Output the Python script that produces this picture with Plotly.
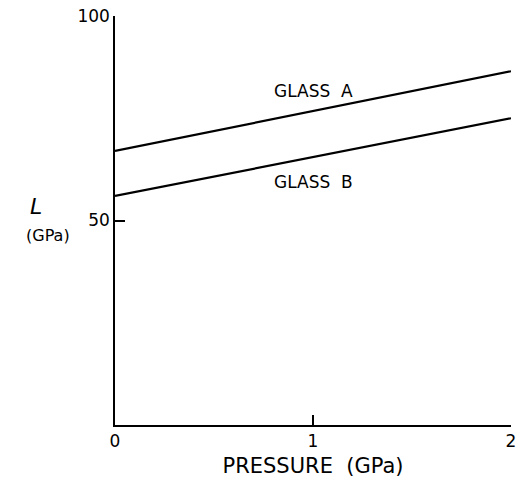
import plotly.graph_objects as go

pressure = [0, 2]
glass_a = [67.0, 86.5]
glass_b = [56.0, 75.0]
labels = ["GLASS A", "GLASS B"]
label_pos = [(1.0, 81.6), (1.0, 59.4)]

font = "DejaVu Sans"

fig = go.Figure()
fig.add_trace(go.Scatter(x=pressure, y=glass_a, mode="lines",
                         line=dict(color="black", width=2.2), showlegend=False))
fig.add_trace(go.Scatter(x=pressure, y=glass_b, mode="lines",
                         line=dict(color="black", width=2.2), showlegend=False))

for txt, (lx, ly) in zip(labels, label_pos):
    fig.add_annotation(x=lx, y=ly, text=txt.replace(" ", "  "), showarrow=False,
                       font=dict(family=font, size=17, color="black"))

fig.add_annotation(xref="paper", yref="paper", x=-0.2, y=0.534, text="<i>L</i>",
                   xanchor="center", yanchor="middle",
                   showarrow=False, font=dict(family=font, size=22, color="black"))
fig.add_annotation(xref="paper", yref="paper", x=-0.17, y=0.463, text="(GPa)",
                   xanchor="center", yanchor="middle",
                   showarrow=False, font=dict(family=font, size=16, color="black"))

fig.update_xaxes(range=[0, 2], tickvals=[0, 1, 2], ticktext=["0", "1", "2"],
                 ticks="inside", ticklen=10, tickwidth=1.5, tickcolor="black",
                 showline=True, linecolor="black", linewidth=1.5,
                 showgrid=False, zeroline=False,
                 tickfont=dict(family=font, size=17, color="black"),
                 title=dict(text="PRESSURE  (GPa)", font=dict(family=font, size=21, color="black"),
                            standoff=8))
fig.update_yaxes(range=[0, 100], tickvals=[50, 100], ticktext=["50", "100"],
                 ticks="inside", ticklen=10, tickwidth=1.5, tickcolor="black",
                 showline=True, linecolor="black", linewidth=1.5,
                 showgrid=False, zeroline=False,
                 tickfont=dict(family=font, size=17, color="black"))

fig.update_layout(width=522, height=482, paper_bgcolor="white", plot_bgcolor="white",
                  margin=dict(l=115, r=6, t=15, b=57))

fig.write_html("out.html")
